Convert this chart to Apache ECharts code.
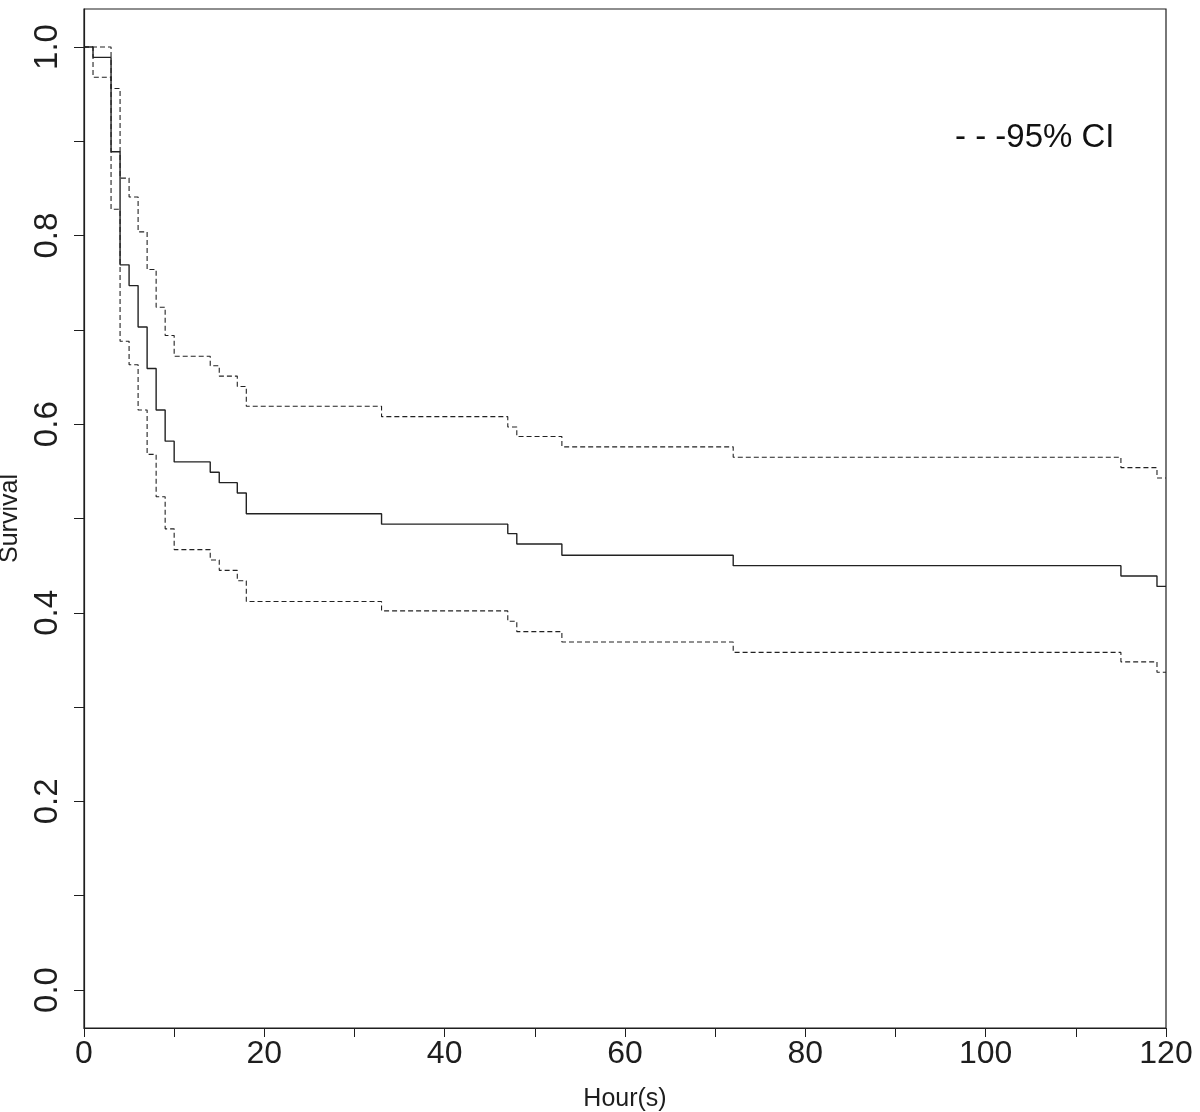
<!DOCTYPE html>
<html>
<head>
<meta charset="utf-8">
<script src="https://cdn.jsdelivr.net/npm/echarts@6/dist/echarts.min.js"></script>
<style>
html,body{margin:0;padding:0;background:#fff;}
#chart{width:1200px;height:1112px;}
</style>
</head>
<body>
<div id="chart"></div>
<script>
// Event times (hours) and Kaplan-Meier estimates
var hours    = [0, 1, 3, 4, 5, 6, 7, 8, 9, 10, 14, 15, 17, 18, 33, 47, 48, 53, 72, 115, 119, 120];
var survival = [1.000, 0.989, 0.889, 0.769, 0.747, 0.703, 0.659, 0.615, 0.582, 0.560, 0.549, 0.538, 0.527, 0.505, 0.494, 0.484, 0.473, 0.461, 0.450, 0.439, 0.428, 0.428];
var upperCI  = [1.000, 1.000, 0.956, 0.861, 0.841, 0.804, 0.764, 0.724, 0.694, 0.672, 0.662, 0.651, 0.640, 0.619, 0.608, 0.597, 0.587, 0.576, 0.565, 0.554, 0.543, 0.543];
var lowerCI  = [1.000, 0.968, 0.828, 0.688, 0.663, 0.615, 0.568, 0.523, 0.489, 0.467, 0.456, 0.445, 0.434, 0.412, 0.402, 0.391, 0.380, 0.369, 0.358, 0.348, 0.337, 0.337];

var xTickValues  = [0, 10, 20, 30, 40, 50, 60, 70, 80, 90, 100, 110, 120];
var xLabelValues = [0, 20, 40, 60, 80, 100, 120];
var yTickValues  = [0, 0.1, 0.2, 0.3, 0.4, 0.5, 0.6, 0.7, 0.8, 0.9, 1.0];
var yLabelValues = [0, 0.2, 0.4, 0.6, 0.8, 1.0];

var xTitle = 'Hour(s)';
var yTitle = 'Survival';
var legendText = '- - -95% CI';

function pairs(xs, ys) {
  return xs.map(function (x, i) { return [x, ys[i]]; });
}

var FONT = 'Liberation Sans, Arial, Helvetica, sans-serif';
var INK = '#1e1e1e';

var chart = echarts.init(document.getElementById('chart'), null, {renderer: 'canvas'});
chart.setOption({
  animation: false,
  backgroundColor: '#ffffff',
  grid: {
    left: 84, right: 34, top: 9, bottom: 84,
    containLabel: false, outerBoundsMode: 'none',
    show: true, borderColor: INK, borderWidth: 1.2, backgroundColor: 'transparent'
  },
  xAxis: {
    type: 'value', min: 0, max: 120, interval: 10,
    name: xTitle, nameLocation: 'middle', nameGap: 59,
    nameTextStyle: {fontFamily: FONT, fontSize: 25, color: INK},
    axisLine: {show: true, onZero: false, lineStyle: {color: INK, width: 1.2}},
    axisTick: {show: true, inside: false, length: 9, customValues: xTickValues, lineStyle: {color: INK, width: 1}},
    axisLabel: {show: true, customValues: xLabelValues, margin: 10, fontFamily: FONT, fontSize: 32, color: INK},
    splitLine: {show: false}
  },
  yAxis: {
    type: 'value', min: -0.0403, max: 1.0403,
    name: yTitle, nameLocation: 'middle', nameGap: 60, nameRotate: 90,
    nameTextStyle: {fontFamily: FONT, fontSize: 25, color: INK},
    axisLine: {show: true, onZero: false, lineStyle: {color: INK, width: 1.2}},
    axisTick: {show: true, inside: false, length: 10, customValues: yTickValues, lineStyle: {color: INK, width: 1}},
    axisLabel: {
      show: true, customValues: yLabelValues, rotate: 90, margin: 20,
      fontFamily: FONT, fontSize: 33, color: INK,
      formatter: function (v) { return Number(v).toFixed(1); }
    },
    splitLine: {show: false}
  },
  graphic: [{
    type: 'text', left: 955, top: 121,
    style: {text: legendText, fontFamily: FONT, fontSize: 33, fill: '#111'}
  }],
  series: [
    {
      name: 'Survival', type: 'line', step: 'end', showSymbol: false, symbol: 'none',
      data: pairs(hours, survival),
      lineStyle: {color: '#222', width: 1.4, type: 'solid'}
    },
    {
      name: 'Upper 95% CI', type: 'line', step: 'end', showSymbol: false, symbol: 'none',
      data: pairs(hours, upperCI),
      lineStyle: {color: '#222', width: 1.1, type: [5, 3]}
    },
    {
      name: 'Lower 95% CI', type: 'line', step: 'end', showSymbol: false, symbol: 'none',
      data: pairs(hours, lowerCI),
      lineStyle: {color: '#222', width: 1.1, type: [5, 3]}
    }
  ]
});
</script>
</body>
</html>
